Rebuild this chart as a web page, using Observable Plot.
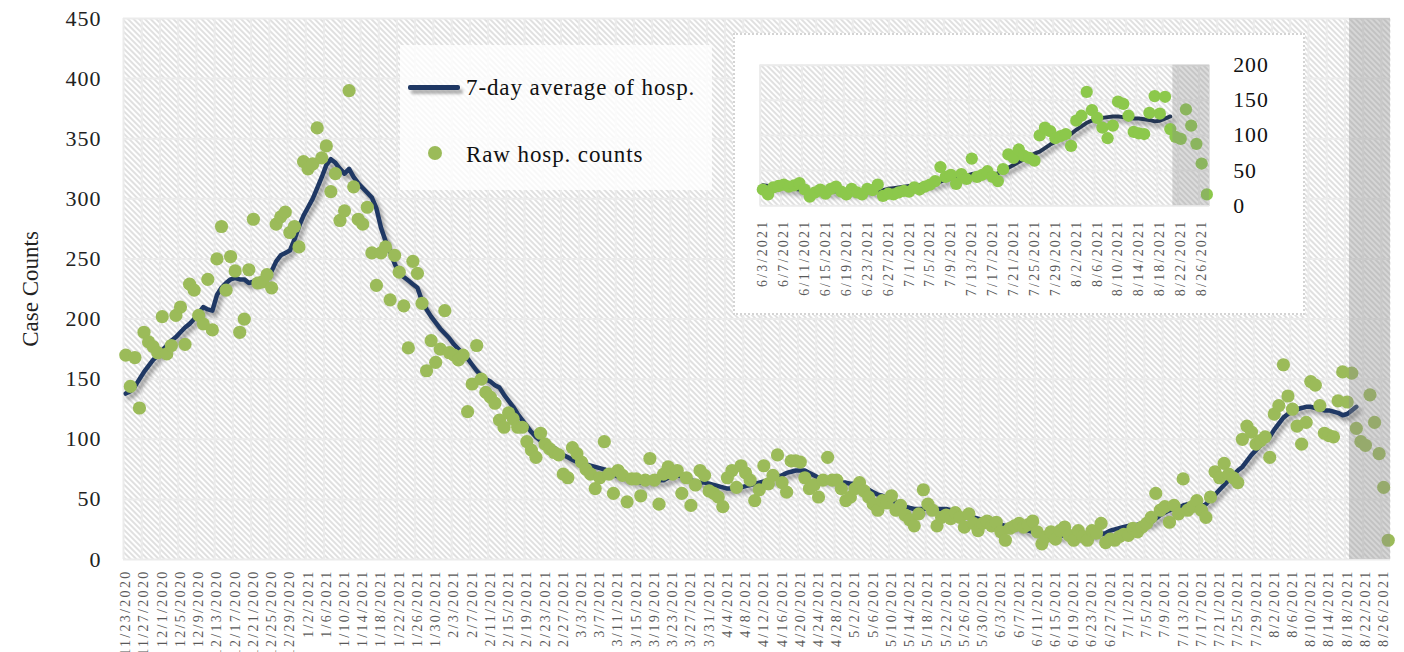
<!DOCTYPE html>
<html>
<head>
<meta charset="utf-8">
<script src="https://cdn.jsdelivr.net/npm/d3@7"></script>
<script src="https://cdn.jsdelivr.net/npm/@observablehq/plot@0.6"></script>
<style>
  html, body { margin: 0; padding: 0; background: #fff; }
  #wrap { position: relative; width: 1404px; height: 652px; overflow: hidden; font-family: "Liberation Serif", "DejaVu Serif", serif; }
  #wrap svg { font-family: "Liberation Serif", "DejaVu Serif", serif; }
  g[aria-label="x-axis tick label"] text { letter-spacing: 2.3px; }
  g[aria-label="y-axis tick label"] text { letter-spacing: 1px; }
  g[aria-label="line"] path { filter: drop-shadow(3px 4px 2px rgba(0,0,0,0.38)); }
  #legend { position: absolute; left: 400px; top: 45px; width: 312px; height: 145px; background: rgba(255,255,255,0.78); }
  .lg-line { position: absolute; height: 5px; border-radius: 2px; background: #1f3864; box-shadow: 3px 4px 3px rgba(0,0,0,0.3); }
  .lg-dot { position: absolute; border-radius: 50%; background: #9bbb59; }
  .lg-text { position: absolute; font-size: 23px; color: #111; white-space: nowrap; line-height: 1; letter-spacing: 0.9px; }
  #inset { position: absolute; left: 733px; top: 33px; width: 572px; height: 282px; background: #fff; box-sizing: border-box; border: 2px dotted #d4d4d4; }
  #inset svg { position: absolute; left: -2px; top: -2px; }
</style>
</head>
<body>
<div id="wrap">
  <div id="main"></div>
  <div id="legend">
    <div class="lg-line" style="left:8px; top:40px; width:52px;"></div>
    <div class="lg-text" style="left:66px; top:31px;">7-day average of hosp.</div>
    <div class="lg-dot" style="left:28px; top:101px; width:14px; height:14px;"></div>
    <div class="lg-text" style="left:66px; top:98px;">Raw hosp. counts</div>
  </div>
  <div id="inset"></div>
</div>
<script>
// ---------------- DATA ----------------
const startDate = "2020-11-23";          // first day of the daily series
const tickStepDays = 4;                   // one category label every 4 days
const mainShadeStart = "2021-08-19";      // grey "incomplete data" band, main chart
const insetStart = "2021-06-03";          // first day shown in inset
const insetShadeStart = "2021-08-21";     // grey band, inset

const mainYTicks = [0, 50, 100, 150, 200, 250, 300, 350, 400, 450];
const insetYTicks = [0, 50, 100, 150, 200];

const seriesNames = ["7-day average of hosp.", "Raw hosp. counts"];
const yTitle = "Case Counts";

// Raw daily hospitalisation counts, 11/23/2020 .. 8/27/2021
const rawCounts = [
  170,144,168,126,189,181,177,172,202,171, 178,203,210,179,229,224,203,196,233,191,
  250,277,224,252,240,189,200,241,283,230, 231,237,226,279,285,289,272,277,260,331,
  325,329,359,334,344,306,321,282,290,390, 310,283,279,293,255,228,255,260,216,253,
  239,211,176,248,238,213,157,182,164,175, 207,172,170,166,170,123,146,178,150,139,
  135,130,116,110,122,117,110,110, 98, 91,  85,105, 96, 92, 89, 87, 71, 68, 93, 88,
   81, 75, 71, 59, 68, 98, 71, 55, 74, 70,  48, 67, 67, 53, 66, 84, 66, 46, 71, 77,
   71, 74, 55, 68, 45, 62, 74, 70, 57, 55,  52, 44, 68, 74, 60, 78, 72, 66, 49, 58,
   78, 63, 70, 87, 64, 56, 82, 82, 81, 68,  59, 62, 52, 66, 85, 66, 66, 59, 49, 52,
   59, 64, 57, 52, 46, 41, 49, 47, 53, 41,  45, 37, 33, 28, 38, 58, 46, 41, 28, 35,
   37, 34, 39, 35, 27, 38, 30, 24, 30, 32,  28, 31, 23, 16, 26, 28, 30, 27, 29, 32,
   23, 13, 19, 23, 17, 24, 27, 20, 16, 24,  19, 16, 24, 22, 30, 14, 17, 16, 19, 21,
   20, 26, 23, 27, 30, 35, 55, 41, 44, 31,  45, 38, 67, 41, 44, 49, 41, 35, 52, 73,
   68, 80, 71, 68, 64,100,111,106, 96, 99, 102, 85,121,128,162,136,125,111, 96,114,
  148,145,128,105,103,102,132,156,131,155, 109, 98, 95,137,114, 88, 60, 16
];

// 7-day average, 11/23/2020 .. 8/20/2021
const avgCounts = [
  138,140,144,150,156,161,166,170,174,178, 182,185,189,193,196,200,205,210,208,207,
  220,226,230,233,234,233,233,230,231,232, 233,236,240,248,253,255,257,266,277,286,
  293,300,309,318,328,333,330,325,321,325, 318,313,309,305,301,292,276,265,256,246,
  238,235,232,229,226,215,208,202,197,192, 188,184,179,175,171,167,162,157,153,150,
  148,145,143,137,132,127,121,116,111,106, 102, 99, 97, 94, 93, 90, 87, 85, 83, 81,
   80, 79, 78, 77, 76, 75, 73, 71, 69, 68,  67, 66, 65, 64, 64, 65, 65, 66, 66, 68,
   69, 70, 69, 68, 66, 65, 64, 64, 63, 62,  61, 60, 59, 59, 60, 60, 61, 62, 63, 64,
   65, 66, 67, 69, 70, 72, 73, 74, 74, 74,  72, 70, 68, 67, 66, 66, 65, 64, 64, 63,
   63, 62, 60, 58, 56, 54, 53, 51, 49, 48,  46, 44, 43, 42, 42, 42, 43, 43, 42, 42,
   42, 41, 39, 38, 37, 36, 35, 34, 33, 32,  31, 30, 29, 28, 28, 27, 26, 25, 24, 23,
   22, 21, 21, 21, 20, 20, 20, 20, 20, 20,  20, 21, 21, 21, 21, 22, 24, 25, 26, 27,
   28, 28, 29, 30, 30, 31, 34, 37, 39, 41,  42, 43, 45, 46, 46, 45, 44, 46, 50, 54,
   58, 62, 66, 70, 74, 77, 82, 87, 91, 95,  99,102,108,113,118,121,123,125,126,127,
  127,126,125,124,124,123,122,120,121,124, 127
];

// ---------------- HELPERS ----------------
const parseDay = d3.utcParse("%Y-%m-%d");
const day0 = parseDay(startDate);
const idxOf = s => d3.utcDay.count(day0, parseDay(s));
const fmt = d3.utcFormat("%-m/%-d/%Y");
const labelOf = i => fmt(d3.utcDay.offset(day0, i));

const nDays = rawCounts.length;
const rawData = rawCounts.map((v, i) => ({i, v}));
const avgData = avgCounts.map((v, i) => ({i, v}));
const lastIdx = nDays - 1;

function hatchDefs(id) {
  return () => {
    const ns = "http://www.w3.org/2000/svg";
    const defs = document.createElementNS(ns, "defs");
    defs.innerHTML =
      `<pattern id="${id}" width="4" height="4" patternUnits="userSpaceOnUse" patternTransform="rotate(-45)">
         <rect width="4" height="4" fill="#ffffff"/>
         <line x1="1" y1="0" x2="1" y2="4" stroke="#d3d3d3" stroke-width="1.4"/>
       </pattern>`;
    return defs;
  };
}

// ---------------- MAIN CHART ----------------
const mainTicks = d3.range(0, lastIdx, tickStepDays);
const mainGridX = d3.range(-0.5, lastIdx + 0.5, tickStepDays);
const mainShadeX1 = idxOf(mainShadeStart) - 0.5;

const main = Plot.plot({
  width: 1404,
  height: 652,
  marginLeft: 123,
  marginRight: 14,
  marginTop: 18,
  marginBottom: 93,
  x: {type: "linear", domain: [-0.5, lastIdx + 0.5]},
  y: {domain: [0, 450]},
  style: {background: "transparent", overflow: "visible"},
  marks: [
    hatchDefs("hatchMain"),
    Plot.frame({fill: "url(#hatchMain)", stroke: null}),
    Plot.ruleX(mainGridX, {stroke: "#ebebeb", strokeWidth: 2}),
    Plot.ruleY(mainYTicks, {stroke: "#ebebeb", strokeWidth: 2}),
    Plot.lineY(avgData, {x: "i", y: "v", stroke: "#1f3864", strokeWidth: 4.5, curve: "linear"}),
    Plot.dot(rawData, {x: "i", y: "v", r: 6.6, fill: "#9bbb59", stroke: null}),
    Plot.rect([{x1: mainShadeX1, x2: lastIdx + 0.5}], {x1: "x1", x2: "x2", y1: 0, y2: 450, fill: "#8c8c8c", fillOpacity: 0.36}),
    Plot.axisX(mainTicks, {tickFormat: labelOf, tickRotate: -90, tickSize: 0, tickPadding: 10, fontSize: 14, fill: "#595959", label: null}),
    Plot.axisY(mainYTicks, {tickSize: 0, tickPadding: 22, fontSize: 22, fill: "#222", label: null}),
    Plot.text([yTitle], {frameAnchor: "left", textAnchor: "middle", dx: -93, rotate: -90, fontSize: 23, fill: "#222", text: d => d})
  ]
});
document.getElementById("main").appendChild(main);

// ---------------- INSET CHART ----------------
const insetIdx = idxOf(insetStart);
const insetTicks = d3.range(insetIdx, lastIdx, tickStepDays);
const insetGridX = d3.range(insetIdx - 0.5, lastIdx + 0.5, tickStepDays);
const insetShadeX1 = idxOf(insetShadeStart) - 0.5;

const inset = Plot.plot({
  width: 574,
  height: 284,
  marginLeft: 27,
  marginRight: 93,
  marginTop: 32,
  marginBottom: 110,
  x: {type: "linear", domain: [insetIdx - 0.5, lastIdx + 0.5]},
  y: {domain: [0, 200]},
  style: {background: "transparent", overflow: "visible"},
  marks: [
    hatchDefs("hatchInset"),
    Plot.frame({fill: "url(#hatchInset)", stroke: "#e4e4e4"}),
    Plot.ruleX(insetGridX, {stroke: "#ebebeb", strokeWidth: 2}),
    Plot.ruleY(insetYTicks, {stroke: "#ebebeb", strokeWidth: 2}),
    Plot.lineY(avgData.filter(d => d.i >= insetIdx), {x: "i", y: "v", stroke: "#243653", strokeWidth: 4}),
    Plot.dot(rawData.filter(d => d.i >= insetIdx), {x: "i", y: "v", r: 6.2, fill: "#8cc84b", stroke: null}),
    Plot.rect([{x1: insetShadeX1, x2: lastIdx + 0.5}], {x1: "x1", x2: "x2", y1: 0, y2: 200, fill: "#8c8c8c", fillOpacity: 0.3}),
    Plot.axisX(insetTicks, {tickFormat: labelOf, tickRotate: -90, tickSize: 0, tickPadding: 14, fontSize: 14, fill: "#595959", label: null}),
    Plot.axisY(insetYTicks, {anchor: "right", tickSize: 0, tickPadding: 24, fontSize: 22, fill: "#111", label: null})
  ]
});
document.getElementById("inset").appendChild(inset);
</script>
</body>
</html>
